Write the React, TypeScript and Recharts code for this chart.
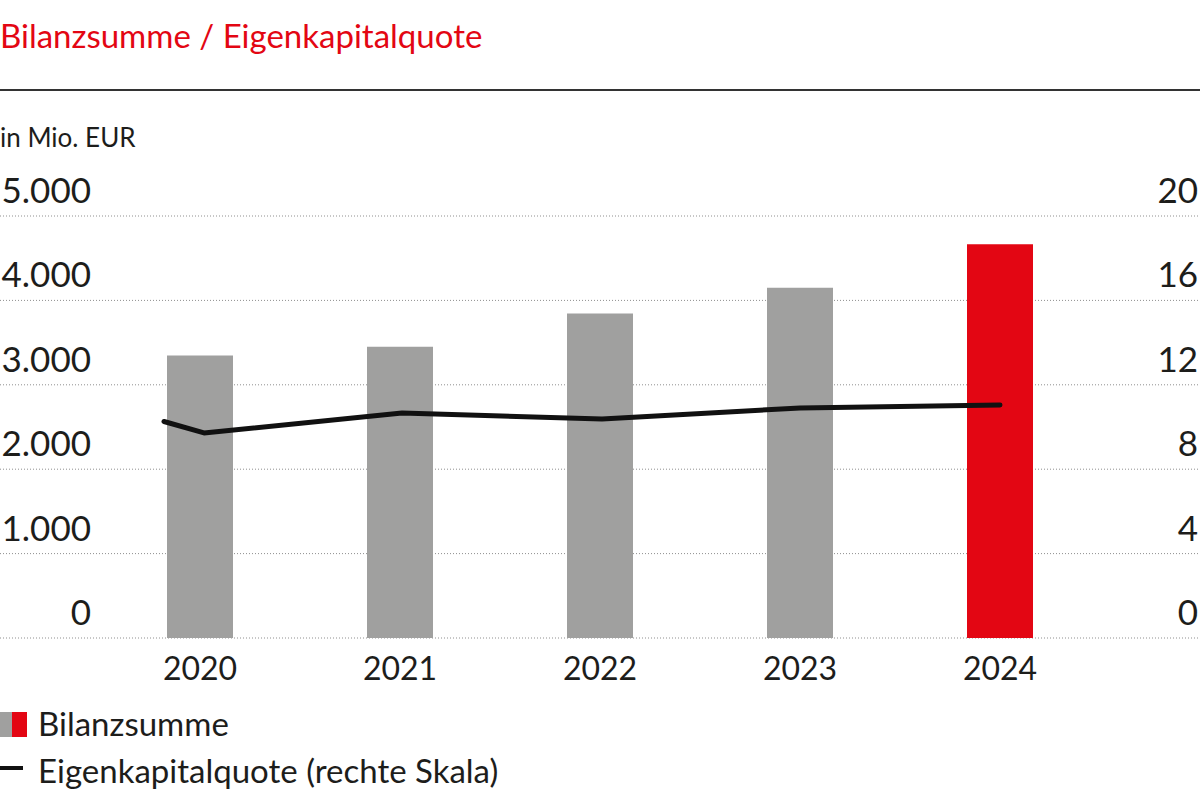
import { ComposedChart, Bar, Line, XAxis, YAxis, CartesianGrid, Cell } from 'recharts';

// Bilanzsumme in Mio. EUR
const years = [2020, 2021, 2022, 2023, 2024];
const bilanzsumme = [3348, 3451, 3846, 4151, 4664];

// Eigenkapitalquote in % (rechte Skala) – the line starts slightly before 2020
const quoteX = [2019.82, 2020.02, 2021.01, 2022.01, 2023.0, 2024.0];
const quote = [10.26, 9.72, 10.66, 10.38, 10.9, 11.04];

const leftTicks = [0, 1000, 2000, 3000, 4000, 5000];
const rightTicks = [0, 4, 8, 12, 16, 20];

const barData = years.map((year, i) => ({ year, value: bilanzsumme[i] }));
const lineData = quoteX.map((x, i) => ({ x, quote: quote[i] }));

const FONT = 'Lato, "Noto Sans", sans-serif';
const TEXT = '#1d1d1b';
const RED = '#e30613';
const GREY = '#a0a09f';

const fmt = (v: number) => String(v).replace(/\B(?=(\d{3})+(?!\d))/g, '.');

const LeftTick = ({ y, payload }: any) => (
  <text x={91} y={y - 13} textAnchor="end" fontSize={35} fill={TEXT} fontFamily={FONT}>
    {fmt(payload.value)}
  </text>
);

const RightTick = ({ y, payload }: any) => (
  <text x={1198} y={y - 13} textAnchor="end" fontSize={35} fill={TEXT} fontFamily={FONT}>
    {payload.value}
  </text>
);

const YearTick = ({ x, y, payload }: any) => (
  <text x={x} y={y} dy={34} textAnchor="middle" fontSize={32} fill={TEXT} fontFamily={FONT}>
    {payload.value}
  </text>
);

export default function App() {
  return (
    <div style={{ position: 'absolute', left: 0, top: 0, width: 1200, height: 800, background: '#fff' }}>
      <ComposedChart
        width={1200}
        height={800}
        data={barData}
        margin={{ top: 216, right: -1, left: -1, bottom: 102 }}
      >
        <CartesianGrid
          yAxisId="left"
          vertical={false}
          stroke="#8f8f8f"
          strokeDasharray="1 2"
        />
        <XAxis
          xAxisId="bars"
          dataKey="year"
          type="number"
          domain={[2019, 2025]}
          ticks={years}
          axisLine={false}
          tickLine={false}
          height={60}
          tick={<YearTick />}
        />
        <XAxis xAxisId="line" dataKey="x" type="number" domain={[2019, 2025]} hide />
        <YAxis
          yAxisId="left"
          domain={[0, 5000]}
          ticks={leftTicks}
          width={1}
          interval={0}
          axisLine={false}
          tickLine={false}
          tick={<LeftTick />}
        />
        <YAxis
          yAxisId="right"
          orientation="right"
          domain={[0, 20]}
          ticks={rightTicks}
          width={1}
          interval={0}
          axisLine={false}
          tickLine={false}
          tick={<RightTick />}
        />
        <Bar xAxisId="bars" yAxisId="left" dataKey="value" barSize={66} isAnimationActive={false}>
          {barData.map((d, i) => (
            <Cell key={d.year} fill={i === barData.length - 1 ? RED : GREY} />
          ))}
        </Bar>
        <Line
          xAxisId="line"
          yAxisId="right"
          data={lineData}
          dataKey="quote"
          type="linear"
          stroke="#111"
          strokeWidth={5}
          strokeLinecap="round"
          strokeLinejoin="round"
          dot={false}
          activeDot={false}
          isAnimationActive={false}
        />
      </ComposedChart>

      <svg
        width={1200}
        height={800}
        style={{ position: 'absolute', left: 0, top: 0, pointerEvents: 'none' }}
        fontFamily={FONT}
      >
        <text x={0} y={48} fontSize={33} fill={RED}>
          Bilanzsumme / Eigenkapitalquote
        </text>
        <line x1={0} x2={1200} y1={90} y2={90} stroke="#333" strokeWidth={2} />
        <text x={0} y={147} fontSize={26} fill={TEXT}>
          in Mio. EUR
        </text>

        <rect x={0} y={712} width={12} height={25} fill={GREY} />
        <rect x={12} y={712} width={15} height={25} fill={RED} />
        <text x={38} y={736} fontSize={33} fill={TEXT}>
          Bilanzsumme
        </text>
        <line x1={0} x2={23} y1={768} y2={768} stroke="#111" strokeWidth={4} />
        <text x={38} y={783} fontSize={33} fill={TEXT}>
          Eigenkapitalquote (rechte Skala)
        </text>
      </svg>
    </div>
  );
}
